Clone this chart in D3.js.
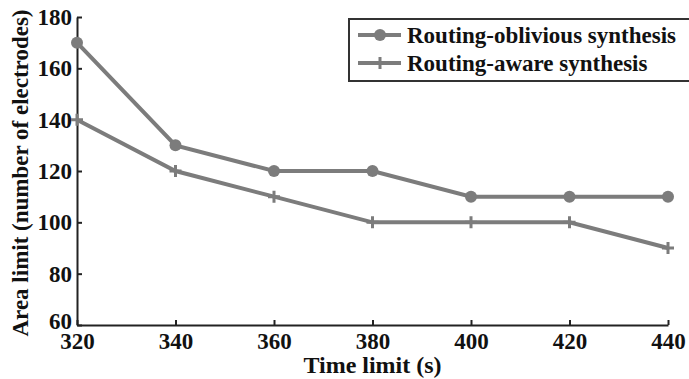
<!DOCTYPE html>
<html><head><meta charset="utf-8">
<script src="https://cdn.jsdelivr.net/npm/d3@7"></script>
<style>
html,body{margin:0;padding:0;background:#fff;}
svg text{font-family:"Liberation Serif","Times New Roman",serif;font-weight:bold;fill:#111;}
</style></head>
<body>
<svg id="c" width="689" height="379"></svg>
<script>
const timeLimits = [320, 340, 360, 380, 400, 420, 440];
const obliviousArea = [170, 130, 120, 120, 110, 110, 110];
const awareArea = [140, 120, 110, 100, 100, 100, 90];
const xTicks = [320, 340, 360, 380, 400, 420, 440];
const yTicks = [60, 80, 100, 120, 140, 160, 180];
const seriesNames = ["Routing-oblivious synthesis", "Routing-aware synthesis"];

(function () {
const svg = d3.select("#c");
const pL = 77, pR = 668, pT = 17, pB = 325;
const x = d3.scaleLinear().domain([320, 440]).range([pL, pR]);
const y = d3.scaleLinear().domain([60, 180]).range([pB, pT]);
const col = "#7c7c7c";
const fs = 23;

const xAxis = svg.append("g").attr("transform", `translate(0,${pB})`)
  .call(d3.axisBottom(x).tickValues(xTicks).tickSizeInner(-5).tickSizeOuter(0).tickPadding(8));
const yAxis = svg.append("g").attr("transform", `translate(${pL},0)`)
  .call(d3.axisLeft(y).tickValues(yTicks).tickSizeInner(-5).tickSizeOuter(0).tickPadding(5));
[xAxis, yAxis].forEach(g => {
  g.select(".domain").attr("stroke", "#222").attr("stroke-width", 2);
  g.selectAll(".tick line").attr("stroke", "#222").attr("stroke-width", 2);
  g.selectAll("text").attr("font-size", fs).attr("fill", "#111");
});
yAxis.selectAll(".tick").filter(d => d === 60).select("text").attr("dy", "0.15em");

svg.append("text").attr("x", (pL + pR) / 2).attr("y", 373)
  .attr("text-anchor", "middle").attr("font-size", 24).text("Time limit (s)");
svg.append("text").attr("transform", `translate(28,${(pT + pB) / 2 + 2}) rotate(-90)`)
  .attr("text-anchor", "middle").attr("font-size", fs).text("Area limit (number of electrodes)");

const line = d3.line().x(d => x(d[0])).y(d => y(d[1]));
const obs = timeLimits.map((t, i) => [t, obliviousArea[i]]);
const aws = timeLimits.map((t, i) => [t, awareArea[i]]);

svg.append("path").datum(aws).attr("d", line).attr("fill", "none").attr("stroke", col).attr("stroke-width", 4);
svg.append("path").datum(obs).attr("d", line).attr("fill", "none").attr("stroke", col).attr("stroke-width", 4);

function plus(g, cx, cy) {
  g.append("path").attr("d", `M${cx - 6},${cy}H${cx + 6}M${cx},${cy - 6}V${cy + 6}`)
    .attr("stroke", col).attr("stroke-width", 3);
}
svg.selectAll("circle.o").data(obs).enter().append("circle")
  .attr("cx", d => x(d[0])).attr("cy", d => y(d[1])).attr("r", 6).attr("fill", col);
aws.forEach(d => plus(svg, x(d[0]), y(d[1])));

const lg = svg.append("g");
lg.append("rect").attr("x", 349).attr("y", 19).attr("width", 360).attr("height", 62)
  .attr("fill", "#fff").attr("stroke", "#333").attr("stroke-width", 2);
const rows = [35, 63];
rows.forEach((ry, i) => {
  lg.append("line").attr("x1", 358).attr("x2", 401).attr("y1", ry).attr("y2", ry)
    .attr("stroke", col).attr("stroke-width", 4);
  if (i === 0) lg.append("circle").attr("cx", 380).attr("cy", ry).attr("r", 6).attr("fill", col);
  else plus(lg, 380, ry);
  lg.append("text").attr("x", 407).attr("y", ry).attr("dy", "0.35em").attr("font-size", 23)
    .text(seriesNames[i]);
});
})();
</script>
</body></html>
